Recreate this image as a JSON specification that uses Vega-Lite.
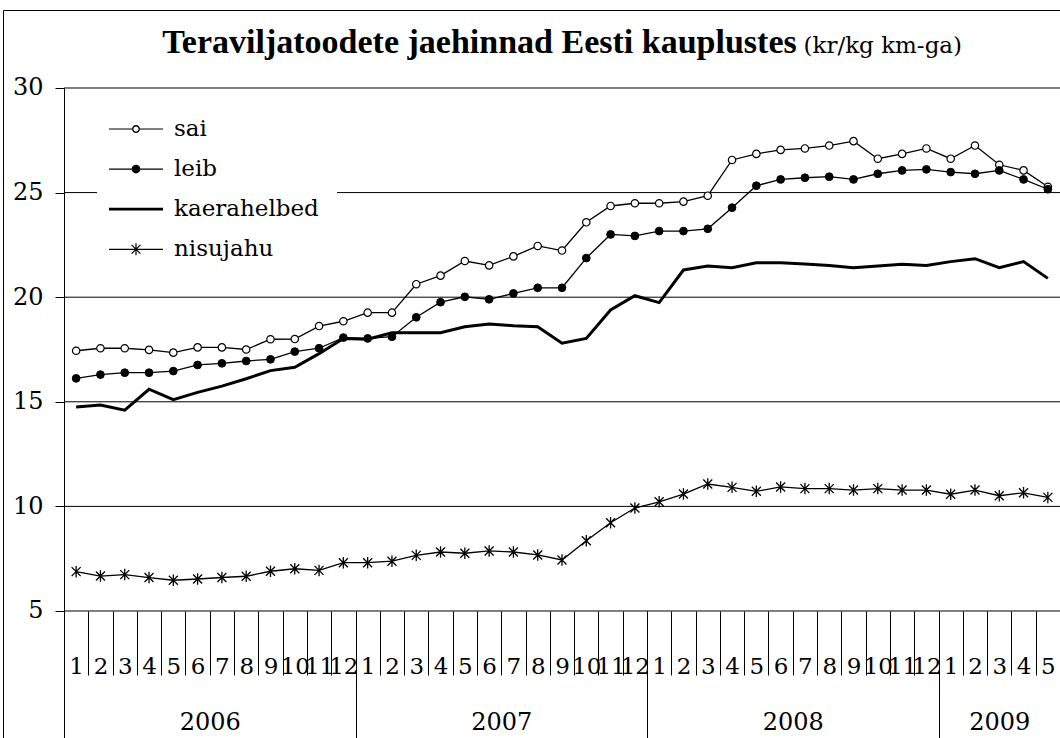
{
  "$schema": "https://vega.github.io/schema/vega-lite/v6.json",
  "width": 1062,
  "height": 733,
  "autosize": {"type": "none"},
  "padding": {"left": 3, "top": 10, "right": 0, "bottom": 0},
  "background": "white",
  "config": {
    "font": "DejaVu Serif",
    "view": {"stroke": "black", "strokeWidth": 1},
    "axis": {"domainColor": "black", "tickColor": "black", "labelColor": "black", "titleColor": "black", "grid": false, "domainWidth": 1, "tickWidth": 1,
      "labelFont": "DejaVu Serif", "titleFont": "DejaVu Serif"}
  },
  "datasets": {
    "prices": [
      {"year": 2006, "month": 1, "n": 1, "sai": 17.44, "leib": 16.12, "kaerahelbed": 14.75, "nisujahu": 6.88},
      {"year": 2006, "month": 2, "n": 2, "sai": 17.56, "leib": 16.30, "kaerahelbed": 14.85, "nisujahu": 6.67},
      {"year": 2006, "month": 3, "n": 3, "sai": 17.56, "leib": 16.39, "kaerahelbed": 14.6, "nisujahu": 6.74},
      {"year": 2006, "month": 4, "n": 4, "sai": 17.48, "leib": 16.39, "kaerahelbed": 15.6, "nisujahu": 6.60},
      {"year": 2006, "month": 5, "n": 5, "sai": 17.35, "leib": 16.47, "kaerahelbed": 15.1, "nisujahu": 6.47},
      {"year": 2006, "month": 6, "n": 6, "sai": 17.60, "leib": 16.76, "kaerahelbed": 15.45, "nisujahu": 6.53},
      {"year": 2006, "month": 7, "n": 7, "sai": 17.60, "leib": 16.84, "kaerahelbed": 15.75, "nisujahu": 6.60},
      {"year": 2006, "month": 8, "n": 8, "sai": 17.50, "leib": 16.95, "kaerahelbed": 16.1, "nisujahu": 6.66},
      {"year": 2006, "month": 9, "n": 9, "sai": 17.99, "leib": 17.03, "kaerahelbed": 16.49, "nisujahu": 6.90},
      {"year": 2006, "month": 10, "n": 10, "sai": 18.00, "leib": 17.40, "kaerahelbed": 16.65, "nisujahu": 7.02},
      {"year": 2006, "month": 11, "n": 11, "sai": 18.62, "leib": 17.56, "kaerahelbed": 17.3, "nisujahu": 6.94},
      {"year": 2006, "month": 12, "n": 12, "sai": 18.85, "leib": 18.07, "kaerahelbed": 18.03, "nisujahu": 7.31},
      {"year": 2007, "month": 1, "n": 13, "sai": 19.26, "leib": 18.03, "kaerahelbed": 17.99, "nisujahu": 7.31},
      {"year": 2007, "month": 2, "n": 14, "sai": 19.26, "leib": 18.11, "kaerahelbed": 18.30, "nisujahu": 7.38},
      {"year": 2007, "month": 3, "n": 15, "sai": 20.62, "leib": 19.04, "kaerahelbed": 18.30, "nisujahu": 7.66},
      {"year": 2007, "month": 4, "n": 16, "sai": 21.03, "leib": 19.76, "kaerahelbed": 18.30, "nisujahu": 7.82},
      {"year": 2007, "month": 5, "n": 17, "sai": 21.73, "leib": 20.02, "kaerahelbed": 18.59, "nisujahu": 7.76},
      {"year": 2007, "month": 6, "n": 18, "sai": 21.52, "leib": 19.90, "kaerahelbed": 18.72, "nisujahu": 7.87},
      {"year": 2007, "month": 7, "n": 19, "sai": 21.95, "leib": 20.18, "kaerahelbed": 18.64, "nisujahu": 7.82},
      {"year": 2007, "month": 8, "n": 20, "sai": 22.45, "leib": 20.45, "kaerahelbed": 18.59, "nisujahu": 7.68},
      {"year": 2007, "month": 9, "n": 21, "sai": 22.23, "leib": 20.45, "kaerahelbed": 17.80, "nisujahu": 7.44},
      {"year": 2007, "month": 10, "n": 22, "sai": 23.58, "leib": 21.87, "kaerahelbed": 18.03, "nisujahu": 8.36},
      {"year": 2007, "month": 11, "n": 23, "sai": 24.36, "leib": 23.00, "kaerahelbed": 19.39, "nisujahu": 9.22},
      {"year": 2007, "month": 12, "n": 24, "sai": 24.49, "leib": 22.93, "kaerahelbed": 20.07, "nisujahu": 9.92},
      {"year": 2008, "month": 1, "n": 25, "sai": 24.49, "leib": 23.16, "kaerahelbed": 19.74, "nisujahu": 10.22},
      {"year": 2008, "month": 2, "n": 26, "sai": 24.57, "leib": 23.16, "kaerahelbed": 21.30, "nisujahu": 10.59},
      {"year": 2008, "month": 3, "n": 27, "sai": 24.85, "leib": 23.27, "kaerahelbed": 21.49, "nisujahu": 11.07},
      {"year": 2008, "month": 4, "n": 28, "sai": 26.56, "leib": 24.28, "kaerahelbed": 21.41, "nisujahu": 10.91},
      {"year": 2008, "month": 5, "n": 29, "sai": 26.85, "leib": 25.33, "kaerahelbed": 21.65, "nisujahu": 10.72},
      {"year": 2008, "month": 6, "n": 30, "sai": 27.04, "leib": 25.63, "kaerahelbed": 21.65, "nisujahu": 10.93},
      {"year": 2008, "month": 7, "n": 31, "sai": 27.11, "leib": 25.71, "kaerahelbed": 21.59, "nisujahu": 10.85},
      {"year": 2008, "month": 8, "n": 32, "sai": 27.25, "leib": 25.76, "kaerahelbed": 21.51, "nisujahu": 10.85},
      {"year": 2008, "month": 9, "n": 33, "sai": 27.46, "leib": 25.63, "kaerahelbed": 21.41, "nisujahu": 10.78},
      {"year": 2008, "month": 10, "n": 34, "sai": 26.62, "leib": 25.90, "kaerahelbed": 21.49, "nisujahu": 10.85},
      {"year": 2008, "month": 11, "n": 35, "sai": 26.85, "leib": 26.06, "kaerahelbed": 21.57, "nisujahu": 10.78},
      {"year": 2008, "month": 12, "n": 36, "sai": 27.11, "leib": 26.11, "kaerahelbed": 21.51, "nisujahu": 10.78},
      {"year": 2009, "month": 1, "n": 37, "sai": 26.62, "leib": 25.98, "kaerahelbed": 21.70, "nisujahu": 10.58},
      {"year": 2009, "month": 2, "n": 38, "sai": 27.25, "leib": 25.90, "kaerahelbed": 21.84, "nisujahu": 10.78},
      {"year": 2009, "month": 3, "n": 39, "sai": 26.33, "leib": 26.06, "kaerahelbed": 21.41, "nisujahu": 10.51},
      {"year": 2009, "month": 4, "n": 40, "sai": 26.06, "leib": 25.63, "kaerahelbed": 21.70, "nisujahu": 10.65},
      {"year": 2009, "month": 5, "n": 41, "sai": 25.28, "leib": 25.16, "kaerahelbed": 20.90, "nisujahu": 10.43}
    ]
  },
  "data": {"name": "prices"},
  "layer": [
    {
      "data": {"values": [{"level": 5}, {"level": 10}, {"level": 15}, {"level": 20}, {"level": 25}, {"level": 30}]},
      "mark": {"type": "rule", "color": "black", "strokeWidth": 1},
      "encoding": {
        "x": {"datum": 0.5, "type": "quantitative", "scale": {"domain": [-2.011, 41.706], "nice": false, "zero": false}, "axis": null},
        "x2": {"datum": 41.706},
        "y": {"field": "level", "type": "quantitative", "scale": {"domain": [-1.31, 33.728], "nice": false, "zero": false},
          "axis": {"orient": "left", "offset": -61, "title": null, "values": [5, 10, 15, 20, 25, 30], "tickSize": 9, "labelPadding": 12, "labelFontSize": 24,
            "grid": false, "domain": false}}
      }
    },
    {
      "mark": {"type": "line", "color": "black", "strokeWidth": 1.3, "point": {"shape": "circle", "filled": true, "fill": "white", "stroke": "black", "strokeWidth": 1.2, "size": 55}},
      "encoding": {
        "x": {"field": "n", "type": "quantitative", "scale": {"domain": [-2.011, 41.706], "nice": false, "zero": false},
          "axis": {"orient": "bottom", "offset": -132, "title": null, "grid": false, "domain": false,
            "values": [0.5, 1.5, 2.5, 3.5, 4.5, 5.5, 6.5, 7.5, 8.5, 9.5, 10.5, 11.5, 12.5, 13.5, 14.5, 15.5, 16.5, 17.5, 18.5, 19.5, 20.5, 21.5, 22.5, 23.5, 24.5, 25.5, 26.5, 27.5, 28.5, 29.5, 30.5, 31.5, 32.5, 33.5, 34.5, 35.5, 36.5, 37.5, 38.5, 39.5, 40.5],
            "tickSize": 64, "labelOffset": 12.15, "labelExpr": "format(((datum.value - 0.5) % 12) + 1, 'd')",
            "labelFontSize": 23, "labelBaseline": "alphabetic", "labelPadding": -2, "labelOverlap": false, "labelFlush": false, "labelBound": false}},
        "y": {"field": "sai", "type": "quantitative", "scale": {"domain": [-1.31, 33.728], "nice": false, "zero": false}, "axis": null}
      }
    },
    {
      "mark": {"type": "line", "color": "black", "strokeWidth": 1.3, "point": {"shape": "circle", "filled": true, "fill": "black", "stroke": "black", "strokeWidth": 1, "size": 60}},
      "encoding": {
        "x": {"field": "n", "type": "quantitative", "scale": {"domain": [-2.011, 41.706], "nice": false, "zero": false},
          "axis": {"orient": "bottom", "offset": -132, "values": [12.5, 24.5, 36.5], "tickSize": 132, "labels": false, "domain": false, "grid": false,
            "title": "Teraviljatoodete jaehinnad Eesti kauplustes", "titleFont": "Liberation Serif", "titleFontSize": 34, "titleFontWeight": "bold",
            "titleX": 476, "titleY": -559, "titleAlign": "center", "titleBaseline": "alphabetic"}},
        "y": {"field": "leib", "type": "quantitative", "scale": {"domain": [-1.31, 33.728], "nice": false, "zero": false}, "axis": null}
      }
    },
    {
      "mark": {"type": "line", "color": "black", "strokeWidth": 3},
      "encoding": {
        "x": {"field": "n", "type": "quantitative", "scale": {"domain": [-2.011, 41.706], "nice": false, "zero": false},
          "axis": {"orient": "bottom", "offset": -655, "values": [0.5], "tickSize": 655, "labels": false, "domain": false, "grid": false, "title": null}},
        "y": {"field": "kaerahelbed", "type": "quantitative", "scale": {"domain": [-1.31, 33.728], "nice": false, "zero": false}, "axis": null}
      }
    },
    {
      "mark": {"type": "line", "color": "black", "strokeWidth": 1.3, "point": {"shape": "M-0.9,-0.9L0.9,0.9M-0.9,0.9L0.9,-0.9M0,-1.15V1.15", "filled": false, "stroke": "black", "strokeWidth": 1.3, "size": 100}},
      "encoding": {
        "x": {"field": "n", "type": "quantitative", "scale": {"domain": [-2.011, 41.706], "nice": false, "zero": false},
          "axis": {"orient": "bottom", "offset": -132, "values": [6.5, 18.5, 30.5, 39], "ticks": false, "tickSize": 0, "domain": false, "grid": false,
            "labelExpr": "datum.value < 12 ? '2006' : datum.value < 24 ? '2007' : datum.value < 36 ? '2008' : '2009'",
            "labelFontSize": 24, "labelBaseline": "alphabetic", "labelPadding": 118, "labelOverlap": false, "labelFlush": false, "labelBound": false,
            "title": "(kr/kg km-ga)", "titleFontSize": 23, "titleFontWeight": "normal", "titleX": 800, "titleY": -559, "titleAlign": "left", "titleBaseline": "alphabetic"}},
        "y": {"field": "nisujahu", "type": "quantitative", "scale": {"domain": [-1.31, 33.728], "nice": false, "zero": false}, "axis": null}
      }
    },
    {
      "data": {"values": [{"series": "sai"}, {"series": "leib"}, {"series": "kaerahelbed"}, {"series": "nisujahu"}]},
      "transform": [{"filter": "false"}],
      "mark": {"type": "point", "filled": true, "color": "black"},
      "encoding": {
        "shape": {"field": "series", "type": "nominal",
          "scale": {"domain": ["sai", "leib", "kaerahelbed", "nisujahu"],
            "range": [
              "M-1.35,-0.03H-0.2V0.03H-1.35ZM0.2,-0.03H1.35V0.03H0.2ZM0.2,0A0.2,0.2,0,1,1,-0.2,0A0.2,0.2,0,1,1,0.2,0ZM0.13,0A0.13,0.13,0,1,0,-0.13,0A0.13,0.13,0,1,0,0.13,0Z",
              "M-1.35,-0.03H-0.2V0.03H-1.35ZM0.2,-0.03H1.35V0.03H0.2ZM0.22,0A0.22,0.22,0,1,1,-0.22,0A0.22,0.22,0,1,1,0.22,0Z",
              "M-1.35,-0.07H1.35V0.07H-1.35Z",
              "M-1.35,-0.03H1.35V0.03H-1.35ZM-0.241,-0.199L-0.199,-0.241L0.241,0.199L0.199,0.241ZM-0.241,0.199L0.199,-0.241L0.241,-0.199L-0.199,0.241ZM-0.03,-0.3H0.03V0.3H-0.03Z"
            ]},
          "legend": {"title": null, "orient": "none", "legendX": 94, "legendY": 80, "padding": 18, "fillColor": "white", "symbolSize": 1600,
            "labelFontSize": 23, "labelFont": "DejaVu Serif", "labelColor": "black", "labelOffset": 17, "rowPadding": 7.1, "labelLimit": 400,
            "symbolFillColor": "black", "symbolOpacity": 1, "zindex": 5}}
      }
    }
  ],
  "resolve": {"axis": {"x": "independent", "y": "independent"}}
}
